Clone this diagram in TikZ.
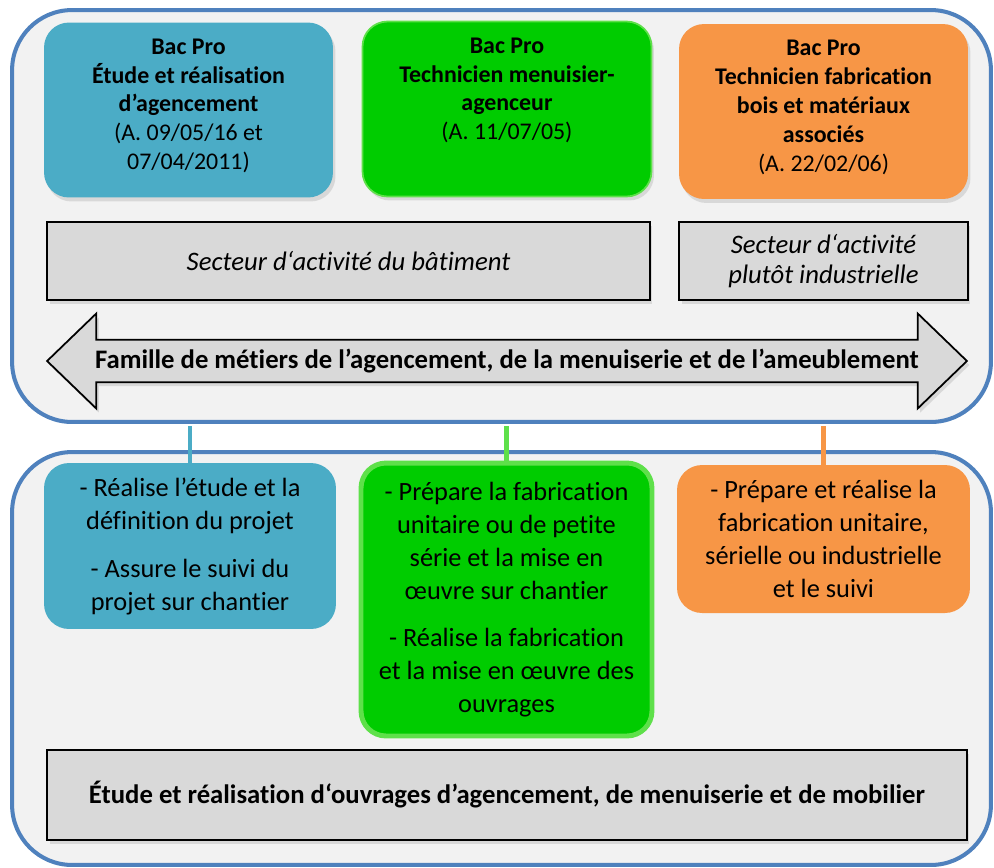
\documentclass[tikz,border=0pt]{standalone}
\usepackage{fontspec}
\setmainfont{Carlito}[Ligatures=NoCommon]
\usetikzlibrary{shapes.arrows,shadows}

\definecolor{cadre}{HTML}{4F81BD}
\definecolor{fond}{HTML}{F2F2F2}
\definecolor{bleuB}{HTML}{4BACC6}
\definecolor{vertB}{HTML}{00CC00}
\definecolor{vertC}{HTML}{5EE04A}
\definecolor{orangeB}{HTML}{F79646}
\definecolor{grisB}{HTML}{D9D9D9}

\tikzset{
  panneau/.style={draw=cadre, line width=2.3pt, fill=fond, rounded corners=1.2cm,
    minimum width=19.58cm, inner sep=0pt},
  ombre/.style={drop shadow={opacity=.22, shadow xshift=.05cm, shadow yshift=-.08cm}},
  bac/.style={ombre, rounded corners=.5cm, inner xsep=0pt, inner ysep=.32cm,
    minimum width=5.78cm, font=\fontsize{13.6}{16.5}\selectfont},
  mission/.style={rounded corners=.5cm, inner sep=0pt, align=center,
    font=\fontsize{15}{18.8}\selectfont},
  secteur/.style={ombre, draw=black, line width=1pt, fill=grisB, inner sep=0pt, align=center},
  lien/.style={line width=2.3pt, shorten <=1.2pt}
}

\newcommand{\titrebac}[1]{\parbox[c][2.86cm][t]{5.7cm}{\centering #1}}

\begin{document}
\begin{tikzpicture}[x=.02cm, y=-.02cm]
\useasboundingbox (0,0) rectangle (994,867);

\node [panneau, minimum height=8.24cm] (haut) at (501.5,216) {};
\node [panneau, minimum height=8.26cm] (bas) at (501.5,658.5) {};

\node [bac, fill=bleuB] (bacA) at (188.5,110)
  {\titrebac{{\bfseries Bac Pro\\ Étude et réalisation\\ d’agencement}\\ (A. 09/05/16 et\\ 07/04/2011)}};
\node [bac, fill=vertB, draw=vertC, line width=1pt] (bacB) at (507,109)
  {\titrebac{{\bfseries Bac Pro\\ Technicien menuisier-\\ agenceur}\\ (A. 11/07/05)}};
\node [bac, fill=orangeB] (bacC) at (823.5,111.5)
  {\titrebac{{\bfseries Bac Pro\\ Technicien fabrication\\ bois et matériaux\\ associés}\\ (A. 22/02/06)}};

\node [secteur, minimum width=12.06cm, minimum height=1.56cm, font=\fontsize{15.2}{17.5}\selectfont\itshape]
  (batiment) at (348.5,261) {Secteur d‘activité du bâtiment};
\node [secteur, minimum width=5.78cm, minimum height=1.56cm, font=\fontsize{15.2}{17.5}\selectfont\itshape]
  (industrie) at (823.5,261) {Secteur d‘activité\\ plutôt industrielle};

\node [ombre, shape=double arrow, draw=black, line width=1pt, fill=grisB, inner sep=0pt,
  double arrow head extend=.32cm, double arrow tip angle=88,
  minimum height=18.4cm, minimum width=1.9cm, font=\fontsize{15.2}{17.5}\selectfont\bfseries]
  (famille) at (507,361) {Famille de métiers de l’agencement, de la menuiserie et de l’ameublement};

\node [mission, fill=bleuB, minimum width=5.84cm, minimum height=3.32cm] (missA) at (190,546)
  {- Réalise l’étude et la\\ définition du projet\\[.3cm] - Assure le suivi du\\ projet sur chantier};
\node [mission, fill=vertB, draw=vertC, line width=2.8pt, minimum width=5.82cm, minimum height=5.46cm]
  (missB) at (506.5,599.5)
  {- Prépare la fabrication\\ unitaire ou de petite\\ série et la mise en\\ œuvre sur chantier\\[.28cm]
   - Réalise la fabrication\\ et la mise en œuvre des\\ ouvrages};
\node [mission, fill=orangeB, minimum width=5.86cm, minimum height=2.96cm] (missC) at (823.5,539)
  {- Prépare et réalise la\\ fabrication unitaire,\\ sérielle ou industrielle\\ et le suivi};

\node [secteur, minimum width=18.4cm, minimum height=1.8cm, font=\fontsize{15.2}{17.5}\selectfont\bfseries]
  (ouvrages) at (507,795) {Étude et réalisation d‘ouvrages d’agencement, de menuiserie et de mobilier};

\draw [lien, bleuB] (haut.south -| missA.north) -- (missA.north);
\draw [lien, vertC] (haut.south -| missB.north) -- (missB.north);
\draw [lien, orangeB] (haut.south -| missC.north) -- (missC.north);
\end{tikzpicture}
\end{document}
